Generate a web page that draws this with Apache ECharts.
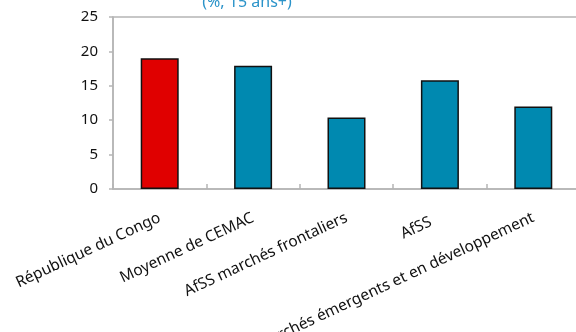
<!DOCTYPE html>
<html>
<head>
<meta charset="utf-8">
<script src="https://cdn.jsdelivr.net/npm/echarts@6/dist/echarts.min.js"></script>
<style>
  html, body { margin: 0; padding: 0; background: #ffffff; }
  #chart { width: 576px; height: 332px; }
</style>
</head>
<body>
<div id="chart"></div>
<script>
// Categories along the horizontal axis
const categories = [
  'République du Congo',
  'Moyenne de CEMAC',
  'AfSS marchés frontaliers',
  'AfSS',
  'Marchés émergents et en développement'
];
// Share of population aged 15+ (%)
const values = [19.0, 17.9, 10.4, 15.8, 12.0];
// Which bar is highlighted (the country itself)
const highlighted = [true, false, false, false, false];
// Value axis ticks
const yTicks = [0, 5, 10, 15, 20, 25];

const red = '#e00000';
const teal = '#0089b0';
const axisGrey = '#b5b5b5';
const font = 'Noto Sans';

const chart = echarts.init(document.getElementById('chart'), null, { renderer: 'canvas' });

// Short labels sit a little further left of their tick than long ones
const categoryItems = categories.map(name => (
  name.length < 6
    ? { value: name, textStyle: { padding: [0, 10, 0, 0] } }
    : name
));

chart.setOption({
  animation: false,
  title: {
    text: '(%, 15 ans+)',
    left: 242,
    textAlign: 'center',
    top: -11,
    textStyle: { color: '#2a93c9', fontFamily: font, fontSize: 16, fontWeight: 'normal' }
  },
  grid: {
    left: 113, right: -4, top: 17, bottom: 143,
    containLabel: false,
    outerBoundsMode: 'none',
    show: true, borderColor: axisGrey, borderWidth: 1.5, backgroundColor: 'transparent'
  },
  xAxis: {
    type: 'category',
    data: categoryItems,
    axisLine: { show: true, lineStyle: { color: axisGrey, width: 1.5 } },
    axisTick: { show: true, inside: true, length: 5, lineStyle: { color: axisGrey, width: 1.5 } },
    axisLabel: {
      interval: 0, rotate: 25, margin: 28,
      color: '#111111', fontFamily: font, fontSize: 15.5
    }
  },
  yAxis: {
    type: 'value',
    min: yTicks[0], max: yTicks[yTicks.length - 1], interval: 5,
    axisLine: { show: true, lineStyle: { color: axisGrey, width: 1.5 } },
    axisTick: { show: true, length: 4, lineStyle: { color: axisGrey, width: 1.5 } },
    splitLine: { show: false },
    axisLabel: { margin: 15, color: '#111111', fontFamily: font, fontSize: 15 }
  },
  series: [{
    type: 'bar',
    barWidth: 38,
    data: values.map((v, i) => ({
      value: v,
      itemStyle: { color: highlighted[i] ? red : teal }
    })),
    itemStyle: { borderColor: '#111111', borderWidth: 1.5 }
  }]
});
</script>
</body>
</html>
